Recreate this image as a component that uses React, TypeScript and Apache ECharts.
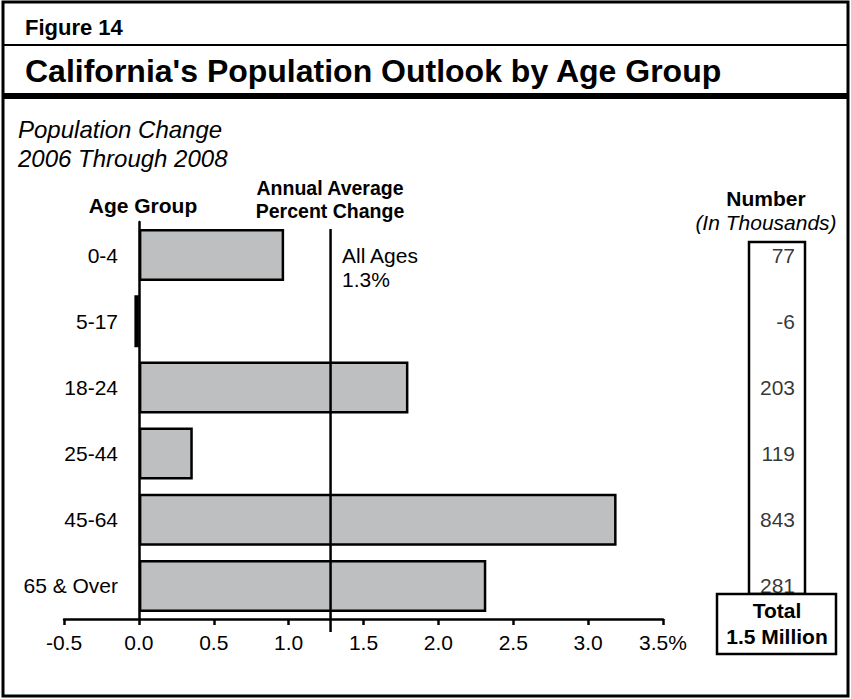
import React, { useEffect, useRef } from "react";
import * as echarts from "echarts";

const categories = ["0-4", "5-17", "18-24", "25-44", "45-64", "65 & Over"];
const percentChange = [0.97, -0.03, 1.8, 0.36, 3.19, 2.32];
const numbersThousands = [77, -6, 203, 119, 843, 281];
const allAgesAverage = 1.28;
const xTicks = [-0.5, 0.0, 0.5, 1.0, 1.5, 2.0, 2.5, 3.0, 3.5];

const FONT = "'Liberation Sans', Arial, Helvetica, sans-serif";

export default function App() {
  const ref = useRef<HTMLDivElement>(null);
  useEffect(() => {
    document.body.style.margin = "0";
    if (!ref.current) return;
    const chart = echarts.init(ref.current, null, { renderer: "svg" });
    const xMin = xTicks[0];
    const xMax = xTicks[xTicks.length - 1];
    const txt = (x: number, y: number, text: string, opts: any = {}) => ({
      type: "text",
      x,
      y,
      style: {
        text,
        fill: "#000",
        fontFamily: FONT,
        fontSize: 21,
        align: "left",
        verticalAlign: "middle",
        ...opts,
      },
      z: 10,
    });
    const gridBase = { containLabel: false, outerBoundsMode: "none" };
    chart.setOption({
      animation: false,
      backgroundColor: "#fff",
      textStyle: { fontFamily: FONT },
      grid: [
        { ...gridBase, left: 64, right: 188, top: 222, bottom: 80 },
        { ...gridBase, left: 64, right: 188, top: 229, bottom: 67 },
        { ...gridBase, left: 749, right: 46, top: 222, bottom: 80 },
      ],
      xAxis: [
        {
          gridIndex: 0,
          type: "value",
          min: xMin,
          max: xMax,
          interval: 0.5,
          splitLine: { show: false },
          axisLine: { show: true, onZero: false, lineStyle: { color: "#000", width: 2.5 } },
          axisTick: { show: true, length: 6, lineStyle: { color: "#000", width: 2.5 } },
          axisLabel: {
            color: "#000",
            fontSize: 21,
            fontFamily: FONT,
            margin: 13,
            formatter: (v: number) => (v === xMax ? v.toFixed(1) + "%" : v.toFixed(1)),
          },
        },
        { gridIndex: 1, type: "value", min: xMin, max: xMax, show: false },
        { gridIndex: 2, type: "value", min: 0, max: 1, show: false },
      ],
      yAxis: [
        {
          gridIndex: 0,
          type: "category",
          data: categories,
          inverse: true,
          axisLine: { show: true, onZero: true, lineStyle: { color: "#000", width: 2.5 } },
          axisTick: { show: false },
          axisLabel: {
            color: "#000",
            fontSize: 21,
            fontFamily: FONT,
            align: "right",
            margin: -54,
          },
        },
        { gridIndex: 1, type: "value", min: 0, max: 1, show: false },
        { gridIndex: 2, type: "category", data: categories, inverse: true, show: false },
      ],
      series: [
        {
          type: "bar",
          xAxisIndex: 0,
          yAxisIndex: 0,
          data: percentChange,
          barWidth: 52,
          itemStyle: { color: "#bebfc1", borderColor: "#000", borderWidth: 2.5 },
          z: 2,
        },
        {
          type: "line",
          xAxisIndex: 1,
          yAxisIndex: 1,
          data: [
            [allAgesAverage, 0],
            [allAgesAverage, 1],
          ],
          symbol: "none",
          lineStyle: { color: "#000", width: 2.5 },
          z: 5,
        },
        {
          type: "scatter",
          xAxisIndex: 2,
          yAxisIndex: 2,
          data: numbersThousands.map((v, i) => [1, categories[i], v]),
          symbolSize: 0,
          label: {
            show: true,
            position: "left",
            distance: 10,
            color: "#000",
            fontSize: 21,
            fontFamily: FONT,
            formatter: (p: any) => String(p.data[2]),
          },
          z: 5,
        },
      ],
      graphic: [
        { type: "rect", shape: { x: 3, y: 2, width: 845, height: 694 }, style: { fill: "none", stroke: "#000", lineWidth: 3 } },
        { type: "line", shape: { x1: 3, y1: 45, x2: 848, y2: 45 }, style: { stroke: "#000", lineWidth: 2 } },
        { type: "rect", shape: { x: 3, y: 93, width: 845, height: 6 }, style: { fill: "#000" } },
        txt(25, 27, "Figure 14", { fontWeight: "bold", fontSize: 22 }),
        txt(25, 71, "California's Population Outlook by Age Group", { fontWeight: "bold", fontSize: 32 }),
        txt(18, 129, "Population Change", { fontStyle: "italic", fontSize: 24 }),
        txt(18, 158, "2006 Through 2008", { fontStyle: "italic", fontSize: 24 }),
        txt(143, 205, "Age Group", { fontWeight: "bold", align: "center" }),
        txt(330, 188, "Annual Average", { fontWeight: "bold", align: "center", fontSize: 19.5 }),
        txt(330, 211, "Percent Change", { fontWeight: "bold", align: "center", fontSize: 19.5 }),
        txt(342, 255, "All Ages"),
        txt(342, 279, "1.3%"),
        txt(766, 198, "Number", { fontWeight: "bold", align: "center" }),
        txt(766, 222, "(In Thousands)", { fontStyle: "italic", align: "center" }),
        { type: "rect", shape: { x: 749, y: 242, width: 56, height: 352 }, style: { fill: "none", stroke: "#000", lineWidth: 2.5 } },
        { type: "rect", shape: { x: 717, y: 594, width: 119, height: 60 }, style: { fill: "#fff", stroke: "#000", lineWidth: 2.5 } },
        txt(777, 610, "Total", { fontWeight: "bold", align: "center" }),
        txt(777, 636, "1.5 Million", { fontWeight: "bold", align: "center" }),
      ],
    });
    return () => chart.dispose();
  }, []);
  return <div ref={ref} style={{ width: 851, height: 699 }} />;
}
